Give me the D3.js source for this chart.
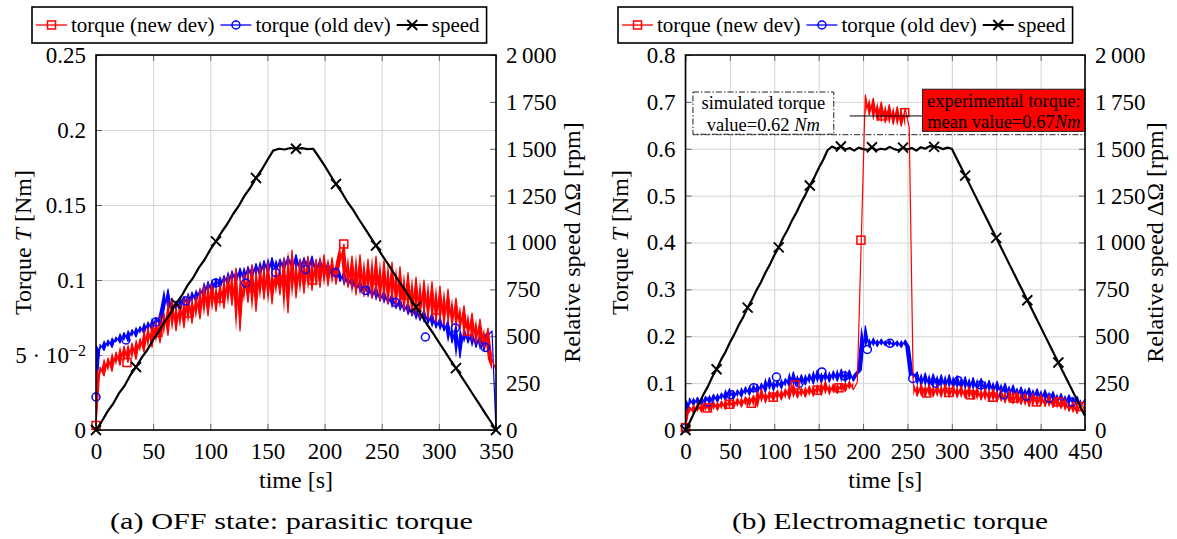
<!DOCTYPE html>
<html>
<head>
<meta charset="utf-8">
<script src="https://cdn.jsdelivr.net/npm/d3@7"></script>
<style>
body { margin: 0; background: #fff; }
svg { display: block; }
text { font-family: "Liberation Serif", "Times New Roman", serif; fill: #000; }
</style>
</head>
<body>
<script>
// ---------- panel (a): OFF state ----------
var stepA = 3.5;
var torqueNewA = [0.003,0.042,0.036,0.048,0.039,0.052,0.043,0.056,0.045,0.058,0.047,0.061,0.052,0.068,0.055,0.072,0.058,0.078,0.063,0.088,
	0.066,0.084,0.068,0.09,0.071,0.089,0.074,0.096,0.076,0.099,0.079,0.097,0.081,0.103,0.083,0.108,0.066,0.104,0.085,0.11,
	0.079,0.109,0.087,0.112,0.084,0.108,0.09,0.114,0.078,0.12,0.088,0.113,0.091,0.116,0.093,0.114,0.095,0.117,0.096,0.115,
	0.097,0.112,0.124,0.095,0.116,0.09,0.117,0.089,0.114,0.088,0.116,0.086,0.113,0.084,0.112,0.082,0.109,0.08,0.105,0.077,
	0.102,0.075,0.1,0.074,0.099,0.072,0.096,0.07,0.094,0.069,0.088,0.067,0.083,0.062,0.078,0.058,0.074,0.055,0.068,0.047,0.04];
var torqueOldA = [0.022,0.057,0.053,0.06,0.055,0.062,0.058,0.065,0.059,0.067,0.062,0.069,0.064,0.072,0.066,0.075,0.069,0.08,0.094,0.078,
	0.086,0.079,0.089,0.082,0.092,0.085,0.094,0.088,0.099,0.091,0.101,0.094,0.103,0.096,0.106,0.098,0.108,0.099,0.109,0.101,
	0.111,0.102,0.113,0.104,0.115,0.105,0.114,0.106,0.116,0.107,0.117,0.106,0.115,0.107,0.116,0.105,0.114,0.104,0.112,0.102,
	0.109,0.099,0.106,0.096,0.103,0.093,0.1,0.091,0.098,0.088,0.096,0.086,0.093,0.084,0.091,0.081,0.088,0.079,0.085,0.076,
	0.082,0.073,0.08,0.071,0.078,0.068,0.075,0.066,0.073,0.058,0.07,0.048,0.068,0.058,0.066,0.055,0.064,0.053,0.063,0.066,0];
var speedStepA = 5;
var speedA = [0,45,98,140,195,236,292,336,386,428,482,525,578,620,674,716,770,812,866,908,
	962,1006,1056,1100,1152,1196,1250,1292,1344,1388,1440,1490,1500,1496,1504,1500,1503,1498,1500,1456,
	1410,1360,1312,1268,1216,1174,1124,1078,1030,984,935,890,842,794,750,702,656,610,560,516,
	468,422,374,330,282,236,188,142,94,48,0];
var marksNewA = [[0,0.003],[27.1,0.045],[54.2,0.065],[81.3,0.078],[108.4,0.088],[135.5,0.095],[162.6,0.1],
	[189.7,0.1],[216.8,0.124],[243.9,0.1],[271,0.09],[298.1,0.08],[325.2,0.066]];
var marksOldA = [[0,0.022],[26.2,0.06],[52.4,0.072],[78.6,0.086],[104.8,0.098],[131,0.098],[157.2,0.105],
	[183.4,0.107],[209.6,0.105],[235.8,0.093],[262,0.085],[288.2,0.062],[314.4,0.068],[340.6,0.055]];
var timeTicksA = [0,50,100,150,200,250,300,350];
var torqueTicksA = [0,0.05,0.1,0.15,0.2,0.25];
var torqueLabelsA = ["0","5\u00B710^\u22122","0.1","0.15","0.2","0.25"];

// ---------- panel (b): electromagnetic torque ----------
var stepB = 4.5;
var torqueNewB = [0.005,0.05,0.036,0.056,0.038,0.058,0.04,0.06,0.042,0.062,0.044,0.066,0.046,0.068,0.049,0.071,0.052,0.074,0.05,0.088,
	0.058,0.082,0.062,0.085,0.064,0.088,0.066,0.098,0.068,0.09,0.07,0.094,0.072,0.096,0.074,0.104,0.076,0.098,0.078,0.1,
	0.082,0.104,0.086,0.102,0.405,0.715,0.672,0.708,0.66,0.7,0.655,0.694,0.652,0.69,0.648,0.686,0.645,0.1,0.072,0.098,
	0.07,0.097,0.071,0.096,0.07,0.097,0.07,0.095,0.069,0.094,0.068,0.092,0.066,0.09,0.064,0.088,0.062,0.088,0.06,0.086,
	0.058,0.084,0.056,0.082,0.054,0.08,0.05,0.078,0.052,0.076,0.05,0.074,0.048,0.07,0.046,0.066,0.04,0.06,0.035,0.056,0.042];
var torqueOldB = [0.005,0.068,0.052,0.07,0.053,0.072,0.056,0.076,0.059,0.079,0.063,0.088,0.066,0.086,0.07,0.092,0.074,0.096,0.078,0.1,
	0.08,0.112,0.084,0.106,0.088,0.11,0.092,0.124,0.094,0.118,0.096,0.12,0.098,0.128,0.1,0.124,0.102,0.126,0.104,0.13,
	0.102,0.128,0.104,0.118,0.128,0.222,0.176,0.196,0.178,0.194,0.18,0.192,0.179,0.19,0.176,0.192,0.178,0.112,0.124,0.094,
	0.122,0.092,0.12,0.09,0.118,0.089,0.118,0.088,0.116,0.087,0.114,0.085,0.112,0.084,0.11,0.082,0.106,0.08,0.104,0.077,
	0.1,0.074,0.096,0.071,0.092,0.068,0.09,0.066,0.088,0.064,0.086,0.06,0.082,0.058,0.078,0.056,0.075,0.054,0.072,0.052,0.066];
var speedStepB = 5;
var speedB = [0,44,95,138,188,230,281,324,374,416,467,510,560,602,653,696,746,788,839,882,
	932,974,1025,1068,1118,1160,1211,1254,1304,1346,1396,1440,1492,1512,1500,1512,1496,1504,1490,1506,
	1498,1494,1508,1492,1500,1496,1510,1498,1492,1506,1496,1504,1490,1508,1500,1514,1510,1508,1498,1506,
	1500,1452,1405,1357,1310,1262,1215,1167,1120,1072,1025,977,930,882,835,787,740,692,645,597,
	550,502,455,407,360,312,265,217,170,122,75];
var marksNewB = [[0,0.005],[24.7,0.047],[49.4,0.055],[74.1,0.057],[98.8,0.07],[123.5,0.096],[148.2,0.085],
	[172.9,0.09],[197.6,0.405],[222.3,0.67],[247,0.677],[271.7,0.079],[296.4,0.08],[321.1,0.075],
	[345.8,0.07],[370.5,0.068],[395.2,0.06],[419.9,0.06],[444.6,0.05]];
var marksOldB = [[0,0.005],[25.6,0.06],[51.2,0.075],[76.8,0.09],[102.4,0.113],[128,0.1],[153.6,0.124],
	[179.2,0.115],[204.8,0.172],[230.4,0.185],[256,0.11],[281.6,0.1],[307.2,0.105],[332.8,0.096],
	[358.4,0.075],[384,0.072],[409.6,0.068],[435.2,0.06]];
var timeTicksB = [0,50,100,150,200,250,300,350,400,450];
var torqueTicksB = [0,0.1,0.2,0.3,0.4,0.5,0.6,0.7,0.8];
var torqueLabelsB = ["0","0.1","0.2","0.3","0.4","0.5","0.6","0.7","0.8"];

// annotations of panel (b)
var simulatedLines = ["simulated torque", "value=0.62 |Nm"];
var experimentalLines = ["experimental torque:", "mean value=0.67|Nm"];

// shared
var speedTicks = [0,250,500,750,1000,1250,1500,1750,2000];
var speedLabels = ["0","250","500","750","1\u2009000","1\u2009250","1\u2009500","1\u2009750","2\u2009000"];
var legendNames = ["torque (new dev)", "torque (old dev)", "speed"];

var svg = d3.select("body").append("svg").attr("width", 1177).attr("height", 539);

var RED = "#ff0000", BLUE = "#0000ff";
var TOP = 55, BOTTOM = 430;

function markSquare(sel, color){
	sel.append("rect").attr("x", -4).attr("y", -4).attr("width", 8).attr("height", 8)
		.style("fill", "none").style("stroke", color).style("stroke-width", 1.5);
}
function markCircle(sel, color){
	sel.append("circle").attr("r", 4).style("fill", "none").style("stroke", color).style("stroke-width", 1.5);
}
function markCross(sel){
	sel.append("path").attr("d", "M-5,-5L5,5M-5,5L5,-5").style("stroke", "#000").style("stroke-width", 1.8);
}

// noisy measurement: filled band between neighbouring samples plus the raw line
function drawNoisy(g, data, x, y, step, color){
	var yNext = function(d, i, arr){ return y(arr[Math.min(i + 1, arr.length - 1)]); };
	var band = d3.area()
		.defined(function(d, i, arr){ return i < arr.length - 1 && Math.abs(y(d) - yNext(d, i, arr)) < 70; })
		.x(function(d, i){ return x(i * step); })
		.y0(function(d){ return y(d); })
		.y1(yNext);
	g.append("path").datum(data).attr("d", band).style("fill", color).style("stroke", "none");
	var line = d3.line().x(function(d, i){ return x(i * step); }).y(function(d){ return y(d); });
	g.append("path").datum(data).attr("d", line)
		.style("fill", "none").style("stroke", color).style("stroke-width", 1.2).style("stroke-linejoin", "round");
}

function drawPanel(p){
	var g = svg.append("g");
	var x = d3.scaleLinear().domain([0, p.tmax]).range([p.left, p.right]);
	var y = d3.scaleLinear().domain([0, p.ymax]).range([BOTTOM, TOP]);
	var y2 = d3.scaleLinear().domain([0, 2000]).range([BOTTOM, TOP]);
	var w = p.right - p.left, h = BOTTOM - TOP;

	// grid
	var gx = g.append("g").attr("transform", "translate(0," + BOTTOM + ")")
		.call(d3.axisBottom(x).tickValues(p.xTicks).tickSize(-h).tickFormat(""));
	var gy = g.append("g").attr("transform", "translate(" + p.left + ",0)")
		.call(d3.axisLeft(y).tickValues(p.yTicks).tickSize(-w).tickFormat(""));
	[gx, gy].forEach(function(s){
		s.select(".domain").remove();
		s.selectAll(".tick line").style("stroke", "#d4d4d4").style("stroke-width", 1);
	});

	// axes with inward ticks
	var ax = g.append("g").attr("transform", "translate(0," + BOTTOM + ")")
		.call(d3.axisBottom(x).tickValues(p.xTicks).tickSize(-6).tickPadding(13).tickFormat(d3.format("d")));
	var axTop = g.append("g").attr("transform", "translate(0," + TOP + ")")
		.call(d3.axisTop(x).tickValues(p.xTicks).tickSize(-6).tickFormat(""));
	var ayl = g.append("g").attr("transform", "translate(" + p.left + ",0)")
		.call(d3.axisLeft(y).tickValues(p.yTicks).tickSize(-6).tickPadding(10)
			.tickFormat(function(d, i){ return p.yLabels[i]; }));
	var ayr = g.append("g").attr("transform", "translate(" + p.right + ",0)")
		.call(d3.axisRight(y2).tickValues(speedTicks).tickSize(-6).tickPadding(10)
			.tickFormat(function(d, i){ return speedLabels[i]; }));
	[ax, axTop, ayl, ayr].forEach(function(s){
		s.select(".domain").remove();
		s.selectAll(".tick line").style("stroke", "#666").style("stroke-width", 1);
		s.selectAll(".tick text").style("font-family", "'Liberation Serif', serif").style("font-size", "23px").style("fill", "#000");
	});
	// superscript labels like 5·10^-2
	ayl.selectAll(".tick text").each(function(){
		var t = d3.select(this), s = t.text();
		if (s.indexOf("^") >= 0){
			var parts = s.split("^");
			t.text(null);
			t.append("tspan").text(parts[0].replace("\u00B7", " \u00B7 "));
			t.append("tspan").attr("dy", "-0.45em").style("font-size", "16px").text(parts[1]);
		}
	});

	// data
	drawNoisy(g, p.oldDev, x, y, p.step, BLUE);
	drawNoisy(g, p.newDev, x, y, p.step, RED);

	g.append("g").selectAll("g").data(p.marksOld).enter().append("g")
		.attr("transform", function(d){ return "translate(" + x(d[0]) + "," + y(d[1]) + ")"; })
		.each(function(){ markCircle(d3.select(this), BLUE); });
	g.append("g").selectAll("g").data(p.marksNew).enter().append("g")
		.attr("transform", function(d){ return "translate(" + x(d[0]) + "," + y(d[1]) + ")"; })
		.each(function(){ markSquare(d3.select(this), RED); });

	var lineSpeed = d3.line().x(function(d, i){ return x(i * p.speedStep); }).y(function(d){ return y2(d); });
	g.append("path").datum(p.speed).attr("d", lineSpeed)
		.style("fill", "none").style("stroke", "#000").style("stroke-width", 2.2).style("stroke-linejoin", "round");
	g.append("g").selectAll("g").data(p.speed.filter(function(d, i){ return i % 7 === 0; })).enter().append("g")
		.attr("transform", function(d, i){ return "translate(" + x(i * 7 * p.speedStep) + "," + y2(d) + ")"; })
		.each(function(){ markCross(d3.select(this)); });

	if (p.annotate) p.annotate(g, x, y);

	// frame
	g.append("rect").attr("x", p.left).attr("y", TOP).attr("width", w).attr("height", h)
		.style("fill", "none").style("stroke", "#000").style("stroke-width", 1.6);

	// axis labels
	g.append("text").attr("x", (p.left + p.right) / 2).attr("y", 488).attr("text-anchor", "middle")
		.style("font-size", "24px").text("time [s]");
	var yl = g.append("text").attr("transform", "translate(" + p.yLabelX + "," + ((TOP + BOTTOM) / 2) + ") rotate(-90)")
		.attr("text-anchor", "middle").style("font-size", "24px");
	yl.append("tspan").text("Torque ");
	yl.append("tspan").style("font-style", "italic").text("T");
	yl.append("tspan").text(" [Nm]");
	g.append("text").attr("transform", "translate(" + p.y2LabelX + "," + ((TOP + BOTTOM) / 2) + ") rotate(-90)")
		.attr("text-anchor", "middle").style("font-size", "24px").text("Relative speed \u0394\u03A9 [rpm]");

	// caption
	g.append("text").attr("x", p.captionX).attr("y", 529).attr("text-anchor", "middle")
		.attr("textLength", p.captionW).attr("lengthAdjust", "spacingAndGlyphs")
		.style("font-size", "23px").text(p.caption);

	// legend
	var lg = g.append("g");
	var box = lg.append("rect").attr("x", p.legendX).attr("y", 7).attr("height", 36)
		.style("fill", "#fff").style("stroke", "#000").style("stroke-width", 1.6);
	var cx = p.legendX + 4;
	var styles = [[RED, markSquare], [BLUE, markCircle], ["#000", markCross]];
	legendNames.forEach(function(name, i){
		lg.append("line").attr("x1", cx).attr("x2", cx + 31).attr("y1", 25).attr("y2", 25)
			.style("stroke", styles[i][0]).style("stroke-width", i === 2 ? 2 : 1.3);
		styles[i][1](lg.append("g").attr("transform", "translate(" + (cx + 15.5) + ",25)"), styles[i][0]);
		var t = lg.append("text").attr("x", cx + 35).attr("y", 32).style("font-size", "21px").text(name);
		cx = cx + 35 + t.node().getComputedTextLength() + 6;
	});
	box.attr("width", cx - p.legendX + 1);
}

function textLines(g, lines, cx, y0, dy, size){
	lines.forEach(function(s, i){
		var parts = s.split("|");
		var t = g.append("text").attr("x", cx).attr("y", y0 + i * dy).attr("text-anchor", "middle").style("font-size", size + "px");
		t.append("tspan").text(parts[0]);
		if (parts.length > 1) t.append("tspan").style("font-style", "italic").text(parts[1]);
	});
}

drawPanel({
	left: 96, right: 496, tmax: 350, ymax: 0.25, step: stepA, speedStep: speedStepA,
	newDev: torqueNewA, oldDev: torqueOldA, speed: speedA, marksNew: marksNewA, marksOld: marksOldA,
	xTicks: timeTicksA, yTicks: torqueTicksA, yLabels: torqueLabelsA,
	yLabelX: 31, y2LabelX: 580, legendX: 32,
	caption: "(a) OFF state: parasitic torque", captionX: 291.5, captionW: 363
});

drawPanel({
	left: 685.5, right: 1085, tmax: 450, ymax: 0.8, step: stepB, speedStep: speedStepB,
	newDev: torqueNewB, oldDev: torqueOldB, speed: speedB, marksNew: marksNewB, marksOld: marksOldB,
	xTicks: timeTicksB, yTicks: torqueTicksB, yLabels: torqueLabelsB,
	yLabelX: 628, y2LabelX: 1163, legendX: 618,
	caption: "(b) Electromagnetic torque", captionX: 890, captionW: 316,
	annotate: function(g, x, y){
		// simulated value: dash-dot box and level line
		g.append("line").attr("x1", x(8.4)).attr("x2", x(450)).attr("y1", y(0.63)).attr("y2", y(0.63))
			.style("stroke", "#222").style("stroke-width", 1).style("stroke-dasharray", "6,2,1.5,2");
		g.append("rect").attr("x", x(8.4)).attr("y", y(0.721)).attr("width", x(167) - x(8.4)).attr("height", y(0.631) - y(0.721))
			.style("fill", "#fff").style("stroke", "#222").style("stroke-width", 1).style("stroke-dasharray", "6,2,1.5,2");
		textLines(g, simulatedLines, (x(8.4) + x(167)) / 2, 109, 22, 18.5);
		// experimental mean: pointer and red box
		g.append("line").attr("x1", x(185)).attr("x2", x(267)).attr("y1", y(0.67)).attr("y2", y(0.67))
			.style("stroke", "#000").style("stroke-width", 1);
		g.append("rect").attr("x", x(267)).attr("y", y(0.727)).attr("width", x(450) - x(267)).attr("height", y(0.637) - y(0.727))
			.style("fill", RED).style("stroke", "#222").style("stroke-width", 1);
		textLines(g, experimentalLines, (x(267) + x(450)) / 2, 107, 21, 18.5);
	}
});
</script>
</body>
</html>
